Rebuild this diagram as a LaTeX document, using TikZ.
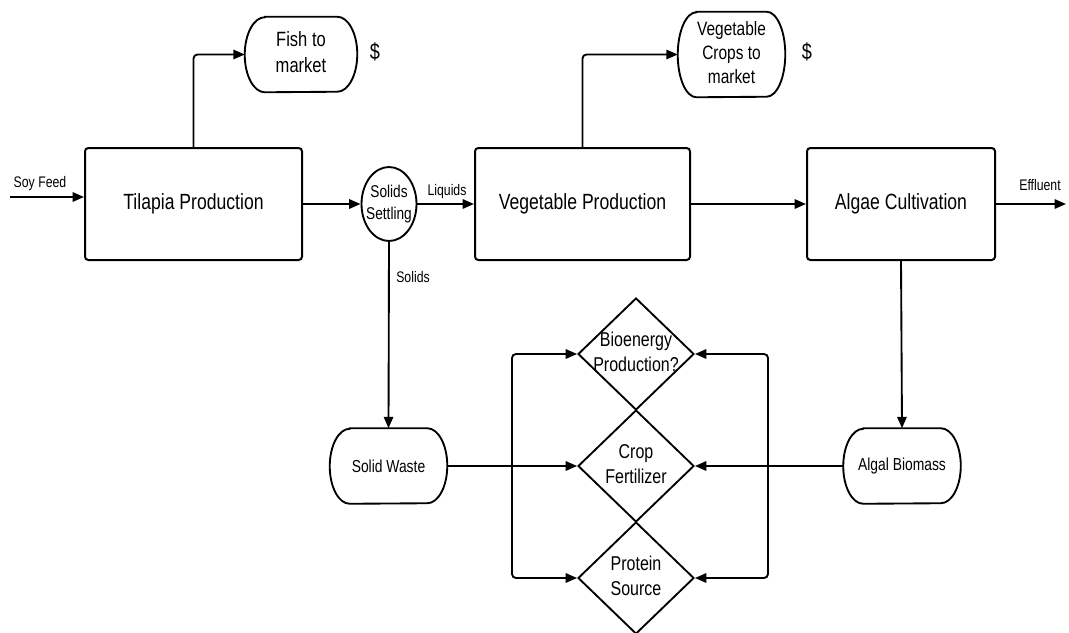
\documentclass[tikz,border=0pt]{standalone}
\usepackage{fontspec}
\setmainfont[FakeStretch=0.8]{Liberation Sans}
\usetikzlibrary{shapes.geometric,arrows.meta}
\newcommand\zw[1]{\makebox[0pt]{\begin{tabular}{@{}c@{}}#1\end{tabular}}}
\newcommand\termshape[3]{\draw[line width=1.4pt] ([xshift=#2]#1.north west) -- ([xshift=-#2]#1.north east) arc[start angle=90,end angle=-90,x radius=#2,y radius=#3] -- ([xshift=#2]#1.south west) arc[start angle=270,end angle=90,x radius=#2,y radius=#3] -- cycle;}
\tikzset{
  proc/.style={draw, line width=1.5pt, rounded corners=2.5pt, minimum height=84pt, inner sep=0pt, font=\fontsize{16.5}{20}\selectfont},
  term/.style={inner sep=0pt, font=\fontsize{15.5}{19.5}\selectfont},
  dia/.style={draw, diamond, line width=1.4pt, minimum width=87pt, minimum height=84pt, inner sep=0pt, font=\fontsize{15}{18.75}\selectfont},
  settlebox/.style={draw, ellipse, line width=1.4pt, minimum width=41.25pt, minimum height=55.5pt, inner sep=0pt, font=\fontsize{12.8}{17}\selectfont},
  lbl/.style={font=\fontsize{11.5}{14}\selectfont},
  arr/.style={line width=1.4pt, -{Triangle[length=8.5pt,width=7pt]}},
  darr/.style={line width=1.4pt, {Triangle[length=8.5pt,width=7pt]}-{Triangle[length=8.5pt,width=7pt]}, rounded corners=3pt},
}
\begin{document}
\begin{tikzpicture}[x=0.75pt,y=-0.75pt]
\useasboundingbox (0,0) rectangle (1069,632);
% process boxes
\node[proc, minimum width=162.75pt] (tilapia) at (193.5,204) {Tilapia Production};
\node[settlebox] (settle) at (389,204) {\zw{Solids\\Settling}};
\node[proc, minimum width=161.25pt] (veg) at (582.5,204) {Vegetable Production};
\node[proc, minimum width=141pt] (algae) at (901,204) {Algae Cultivation};
% terminals
\node[term, minimum width=84pt, minimum height=56.25pt] (fish) at (301,54.5) {\zw{Fish to\\market}};
\termshape{fish}{15pt}{28.125pt}
\node[term, minimum width=80.25pt, minimum height=63.75pt, font=\fontsize{14.5}{18}\selectfont] (vcrops) at (731.5,54.5) {\zw{Vegetable\\Crops to\\market}};
\termshape{vcrops}{14pt}{31.875pt}
\node[term, minimum width=87.75pt, minimum height=56.25pt, font=\fontsize{13}{16}\selectfont] (swaste) at (388.5,466) {Solid Waste};
\termshape{swaste}{15pt}{28.125pt}
\node[term, minimum width=87.75pt, minimum height=56.25pt, font=\fontsize{13}{16}\selectfont] (algal) at (902,466) {Algal Biomass};
\termshape{algal}{15pt}{28.125pt}
% dollar signs
\node[font=\fontsize{17}{20}\selectfont] (d1) at (375,52) {\$};
\node[font=\fontsize{17}{20}\selectfont] (d2) at (807,52) {\$};
% diamonds
\node[dia] (bio) at (636,354) {\zw{Bioenergy\\Production?}};
\node[dia] (crop) at (636,466) {\zw{Crop\\Fertilizer}};
\node[dia] (prot) at (636,578) {\zw{Protein\\Source}};
% free ends and bus points
\coordinate (soy) at (10,197);
\coordinate (eff) at (1066,204);
\coordinate (lb) at (512,466);
\coordinate (rb) at (768,466);
% labels
\node[lbl] (soyl) at (40,184) {Soy Feed};
\node[lbl] (effl) at (1040,185) {Effluent};
\node[lbl] (liql) at (447,192) {Liquids};
\node[lbl] (soll) at (413,277) {Solids};
% connectors
\draw[arr] (soy) -- (soy -| tilapia.west);
\draw[arr] (tilapia) -- (settle);
\draw[arr] (settle) -- (veg);
\draw[arr] (veg) -- (algae);
\draw[arr] (algae) -- (eff);
\draw[arr, rounded corners=3pt] (tilapia.north) |- (fish.west);
\draw[arr, rounded corners=3pt] (veg.north) |- (vcrops.west);
\draw[arr] (settle.south) -- (swaste.north);
\draw[arr] (algae.south) -- (algal.north);
\draw[arr] (swaste.east) -- (crop.west);
\draw[arr] (algal.west) -- (crop.east);
\draw[darr] (bio.west) -| (lb) |- (prot.west);
\draw[darr] (bio.east) -| (rb) |- (prot.east);
\end{tikzpicture}
\end{document}
